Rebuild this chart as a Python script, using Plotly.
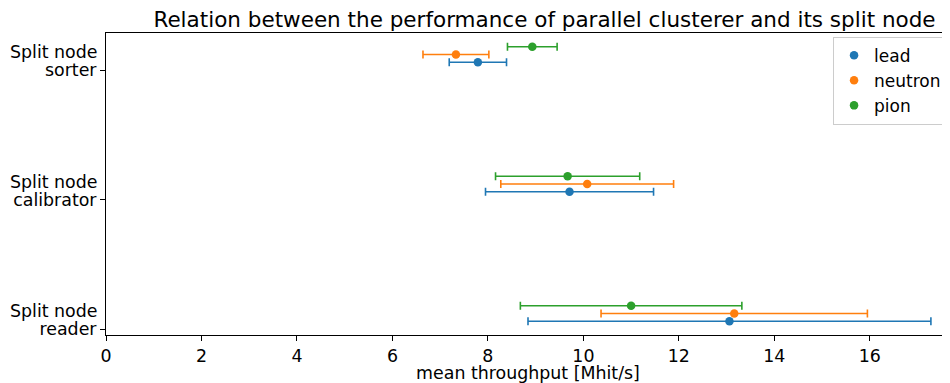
import plotly.graph_objects as go

categories = ["reader", "calibrator", "sorter"]
category_prefix = "Split node"
series_names = ["lead", "neutron", "pion"]
colors = ["#1f77b4", "#ff7f0e", "#2ca02c"]

# mean throughput [Mhit/s] per category (reader, calibrator, sorter)
lead_mean = [13.06, 9.71, 7.79]
lead_err = [4.22, 1.76, 0.60]
neutron_mean = [13.16, 10.08, 7.33]
neutron_err = [2.79, 1.81, 0.69]
pion_mean = [11.00, 9.67, 8.93]
pion_err = [2.32, 1.51, 0.52]

offsets = [0.06, 0.12, 0.18]
means = [lead_mean, neutron_mean, pion_mean]
errs = [lead_err, neutron_err, pion_err]

fig = go.Figure()
for name, color, m, e, off in zip(series_names, colors, means, errs, offsets):
    fig.add_trace(go.Scatter(
        x=m,
        y=[i + off for i in range(len(categories))],
        mode="markers",
        name=name,
        marker=dict(color=color, size=8.5),
        error_x=dict(type="data", array=e, visible=True, color=color,
                     thickness=1.6, width=4),
    ))

font = "DejaVu Sans"
fs = 17.4
# page body has an 8px margin, so the figure is drawn 8px in from the top-left
W, H = 942, 375
fig.update_layout(
    width=W, height=H,
    margin=dict(l=97.5, r=0, t=25, b=48, autoexpand=False),
    paper_bgcolor="white", plot_bgcolor="white",
    font=dict(family=font, size=fs, color="black"),
    title=dict(text="Relation between the performance of parallel clusterer and its split node",
               x=536.5 / W, xanchor="center", xref="container",
               y=1 - 11.5 / H, yanchor="middle", yref="container",
               font=dict(size=21.5, family=font, color="black")),
    showlegend=True,
    legend=dict(x=0.9965, xanchor="right", y=0.988, yanchor="top",
                bordercolor="#cccccc", borderwidth=1, bgcolor="white",
                font=dict(size=17, family=font), itemwidth=30,
                tracegroupgap=0),
)
# first line of each two-line category label
for i in range(len(categories)):
    fig.add_annotation(
        text=category_prefix, xref="paper", x=0, xanchor="right", xshift=-8.5,
        yref="y", y=i, yanchor="middle", yshift=18, showarrow=False,
        borderpad=0, borderwidth=0, font=dict(size=fs, family=font, color="black"),
    )
fig.update_xaxes(
    range=[0, 17.68], tickvals=[0, 2, 4, 6, 8, 10, 12, 14, 16],
    showgrid=False, zeroline=False, showline=True, linecolor="black", linewidth=1,
    mirror=True, ticks="outside", ticklen=5, tickcolor="black",
    title=dict(text="mean throughput [Mhit/s]", standoff=0, font=dict(size=fs)),
    tickfont=dict(size=fs),
)
fig.update_yaxes(
    range=[-0.046, 2.286], tickvals=[0, 1, 2], ticktext=categories,
    showgrid=False, zeroline=False, showline=True, linecolor="black", linewidth=1,
    ticks="outside", ticklen=5, tickcolor="black", tickfont=dict(size=fs),
)

fig.write_html("out.html")
